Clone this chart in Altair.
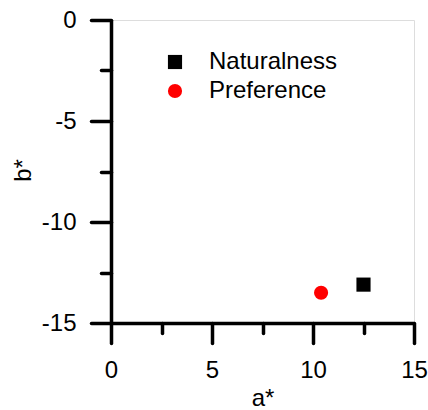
import altair as alt
import pandas as pd

names = ["Naturalness", "Preference"]
a_vals = [12.5, 10.4]
b_vals = [-13.1, -13.5]
colors = ["#000000", "#ff0000"]
shapes = ["square", "circle"]
x_major = [0, 5, 10, 15]
x_minor = [2.5, 7.5, 12.5]
y_major = [0, -5, -10, -15]
y_minor = [-2.5, -7.5, -12.5]

df = pd.DataFrame({"name": names, "a": a_vals, "b": b_vals})
FONT = "Liberation Sans"

xs = alt.Scale(domain=[0, 15], nice=False, zero=False)
ys = alt.Scale(domain=[-15, 0], nice=False, zero=False)

common_axis = dict(domainColor="black", domainWidth=3.5, tickColor="black", tickWidth=3.5,
                   tickCap="round", grid=False, labelFont=FONT, labelFontSize=24,
                   labelColor="black", titleFont=FONT, titleFontSize=24, titleColor="black",
                   titleFontWeight="normal", labelFlush=False, labelOverlap=False,
                   labelExpr="'' + datum.value")

main = alt.Chart(df).mark_point(filled=True, opacity=1, size=200).encode(
    x=alt.X("a:Q", scale=xs, title="a*",
            axis=alt.Axis(orient="bottom", values=x_major, tickSize=20, labelPadding=15,
                          titleY=82, titleBaseline="alphabetic", **common_axis)),
    y=alt.Y("b:Q", scale=ys, title="b*",
            axis=alt.Axis(orient="left", values=y_major, tickSize=20, labelPadding=15,
                          titleX=-81, titleY=150, titleBaseline="alphabetic", **common_axis)),
    color=alt.Color("name:N", scale=alt.Scale(domain=names, range=colors),
                    legend=alt.Legend(title=None, orient="none", legendX=52, legendY=30,
                                      padding=0, labelFont=FONT, labelFontSize=24,
                                      labelColor="black", labelOffset=22, symbolSize=200,
                                      symbolStrokeWidth=0, rowPadding=5)),
    shape=alt.Shape("name:N", scale=alt.Scale(domain=names, range=shapes)),
)

minor = alt.Chart(df).mark_point(opacity=0).encode(
    x=alt.X("a:Q", scale=xs, title=None,
            axis=alt.Axis(orient="bottom", values=x_minor, tickSize=10, labels=False,
                          domain=False, tickColor="black", tickWidth=3.5, tickCap="round",
                          grid=False)),
    y=alt.Y("b:Q", scale=ys, title=None,
            axis=alt.Axis(orient="left", values=y_minor, tickSize=10, labels=False,
                          domain=False, tickColor="black", tickWidth=3.5, tickCap="round",
                          grid=False)),
)

chart = alt.layer(main, minor).resolve_axis(x="independent", y="independent").properties(
    width=303, height=303,
    autosize=alt.AutoSizeParams(type="none"),
    padding={"left": 111, "top": 20, "right": 14, "bottom": 87},
).configure_view(stroke=None).configure(background="white")

chart.save("out.html", embed_options={"renderer": "svg", "actions": False})
